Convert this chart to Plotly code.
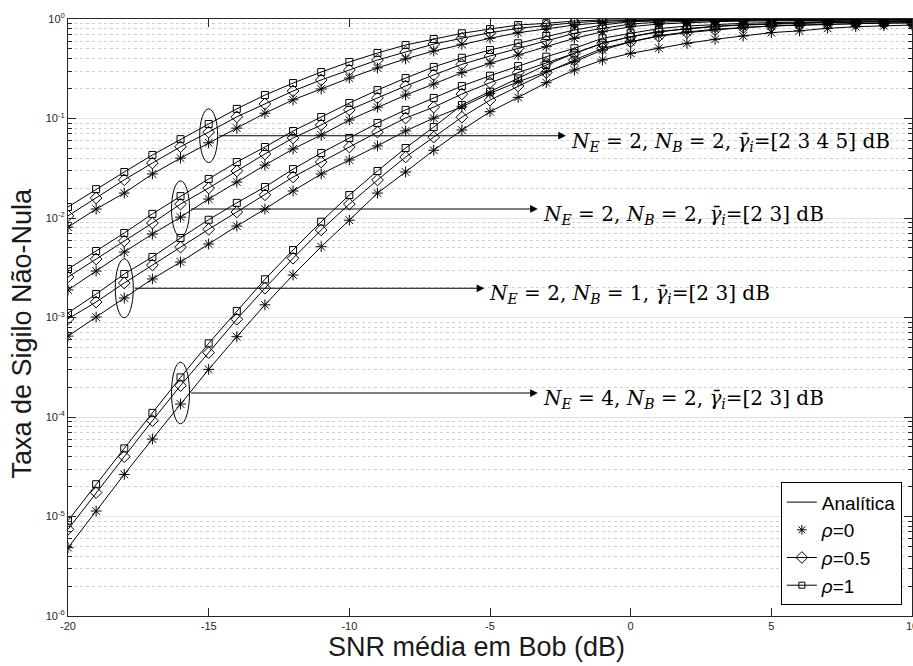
import numpy as np
import plotly.graph_objects as go

# SNR média em Bob (dB)
snr_db = list(range(-20, 11))

# N_E = 2, N_B = 2, gamma = [2 3 4 5] dB
taxa_a_rho0 = [0.0081, 0.0123, 0.0178, 0.0277, 0.040, 0.057, 0.080, 0.113, 0.154, 0.198,
               0.255, 0.322, 0.397, 0.477, 0.557, 0.640, 0.728, 0.793, 0.870, 0.918,
               0.950, 0.965, 0.973, 0.978, 0.982, 0.985, 0.987, 0.989, 0.990, 0.991, 0.992]
taxa_a_rho05 = [0.0105, 0.0159, 0.0242, 0.0357, 0.052, 0.073, 0.104, 0.140, 0.189, 0.244,
                0.307, 0.387, 0.466, 0.560, 0.640, 0.728, 0.806, 0.857, 0.918, 0.955,
                0.970, 0.980, 0.985, 0.988, 0.990, 0.992, 0.993, 0.994, 0.995, 0.996, 0.996]
taxa_a_rho1 = [0.0129, 0.0195, 0.029, 0.043, 0.062, 0.088, 0.125, 0.172, 0.227, 0.293,
               0.370, 0.455, 0.548, 0.630, 0.718, 0.793, 0.870, 0.905, 0.955, 0.977,
               0.985, 0.990, 0.993, 0.995, 0.996, 0.997, 0.998, 0.998, 0.999, 0.999, 0.999]

# N_E = 2, N_B = 2, gamma = [2 3] dB
taxa_b_rho0 = [0.00189, 0.00293, 0.00455, 0.0069, 0.0102, 0.0155, 0.023, 0.034, 0.0494, 0.0683,
               0.0966, 0.130, 0.172, 0.222, 0.289, 0.359, 0.435, 0.527, 0.640, 0.745,
               0.837, 0.890, 0.920, 0.940, 0.952, 0.960, 0.967, 0.972, 0.976, 0.979, 0.981]
taxa_b_rho05 = [0.00255, 0.00387, 0.00587, 0.0089, 0.0138, 0.020, 0.0297, 0.044, 0.0637, 0.086,
                0.122, 0.161, 0.212, 0.274, 0.350, 0.425, 0.508, 0.605, 0.718, 0.806,
                0.890, 0.930, 0.950, 0.962, 0.970, 0.975, 0.980, 0.983, 0.985, 0.987, 0.988]
taxa_b_rho1 = [0.00307, 0.00466, 0.00707, 0.011, 0.0166, 0.0247, 0.0365, 0.0517, 0.0749, 0.1035,
               0.143, 0.193, 0.255, 0.330, 0.408, 0.488, 0.570, 0.675, 0.775, 0.870,
               0.940, 0.960, 0.972, 0.980, 0.985, 0.988, 0.990, 0.992, 0.993, 0.994, 0.995]

# N_E = 2, N_B = 1, gamma = [2 3] dB
taxa_c_rho0 = [0.00065, 0.00101, 0.00157, 0.00244, 0.00361, 0.00548, 0.0083, 0.0123, 0.0187, 0.0277,
               0.0383, 0.053, 0.075, 0.101, 0.131, 0.179, 0.234, 0.295, 0.372, 0.488,
               0.590, 0.680, 0.740, 0.790, 0.825, 0.850, 0.870, 0.887, 0.900, 0.910, 0.918]
taxa_c_rho05 = [0.00097, 0.00143, 0.00222, 0.00337, 0.0051, 0.0077, 0.0115, 0.0171, 0.0258, 0.0365,
                0.0517, 0.073, 0.101, 0.130, 0.176, 0.229, 0.289, 0.359, 0.452, 0.570,
                0.664, 0.750, 0.800, 0.840, 0.870, 0.890, 0.905, 0.918, 0.928, 0.936, 0.943]
taxa_c_rho1 = [0.00111, 0.00172, 0.00274, 0.00406, 0.0063, 0.0096, 0.0142, 0.0205, 0.031, 0.045,
               0.0637, 0.090, 0.122, 0.161, 0.212, 0.269, 0.337, 0.418, 0.508, 0.640,
               0.718, 0.800, 0.850, 0.880, 0.905, 0.920, 0.935, 0.945, 0.952, 0.958, 0.963]

# N_E = 4, N_B = 2, gamma = [2 3] dB
taxa_d_rho0 = [4.86e-6, 1.135e-5, 2.65e-5, 6.0e-5, 1.35e-4, 3.01e-4, 6.41e-4, 1.34e-3, 2.67e-3, 5.15e-3,
               0.0095, 0.0178, 0.029, 0.048, 0.0766, 0.117, 0.163, 0.229, 0.307, 0.387,
               0.452, 0.510, 0.570, 0.625, 0.675, 0.730, 0.760, 0.806, 0.837, 0.857, 0.870]
taxa_d_rho05 = [7.43e-6, 1.74e-5, 3.99e-5, 9.18e-5, 2.07e-4, 4.43e-4, 9.6e-4, 1.97e-3, 3.94e-3, 7.57e-3,
                0.0138, 0.0241, 0.041, 0.065, 0.103, 0.153, 0.212, 0.289, 0.387, 0.508,
                0.590, 0.670, 0.730, 0.780, 0.820, 0.850, 0.870, 0.885, 0.898, 0.908, 0.915]
taxa_d_rho1 = [9.08e-6, 2.11e-5, 4.84e-5, 1.1e-4, 2.5e-4, 5.5e-4, 1.16e-3, 2.42e-3, 4.77e-3, 9.18e-3,
               0.017, 0.0297, 0.0505, 0.082, 0.137, 0.186, 0.253, 0.345, 0.452, 0.570,
               0.664, 0.740, 0.800, 0.845, 0.875, 0.900, 0.915, 0.928, 0.938, 0.945, 0.950]

legend_labels = ["Analítica", "<i>ρ</i>=0", "<i>ρ</i>=0.5", "<i>ρ</i>=1"]

group_labels = [
    "<i>N</i><sub><i>E</i></sub> = 2, <i>N</i><sub><i>B</i></sub> = 2, <i>γ̄</i><sub><i>i</i></sub>=[2 3 4 5] dB",
    "<i>N</i><sub><i>E</i></sub> = 2, <i>N</i><sub><i>B</i></sub> = 2, <i>γ̄</i><sub><i>i</i></sub>=[2 3] dB",
    "<i>N</i><sub><i>E</i></sub> = 2, <i>N</i><sub><i>B</i></sub> = 1, <i>γ̄</i><sub><i>i</i></sub>=[2 3] dB",
    "<i>N</i><sub><i>E</i></sub> = 4, <i>N</i><sub><i>B</i></sub> = 2, <i>γ̄</i><sub><i>i</i></sub>=[2 3] dB",
]
# SNR where each group is circled, and SNR where its label arrow ends
group_mark_snr = [-15, -16, -18, -16]
group_label_snr = [-2.3, -3.3, -5.2, -3.3]

groups = [
    (taxa_a_rho0, taxa_a_rho05, taxa_a_rho1),
    (taxa_b_rho0, taxa_b_rho05, taxa_b_rho1),
    (taxa_c_rho0, taxa_c_rho05, taxa_c_rho1),
    (taxa_d_rho0, taxa_d_rho05, taxa_d_rho1),
]

SANS = "Liberation Sans, Arial, sans-serif"
SERIF = "DejaVu Serif, serif"
INK = "black"
TICK_INK = "#262626"

marker_styles = [
    dict(symbol="asterisk-open", size=9, color=INK, line=dict(width=1, color=INK)),
    dict(symbol="diamond-open", size=9, color=INK, line=dict(width=1, color=INK)),
    dict(symbol="square-open", size=7, color=INK, line=dict(width=1, color=INK)),
]

fig = go.Figure()

for g in groups:
    for series, mk in zip(g, marker_styles):
        fig.add_trace(go.Scatter(
            x=snr_db, y=series, mode="lines+markers",
            line=dict(color=INK, width=1), marker=mk,
            showlegend=False, hoverinfo="skip",
        ))

# legend entries
fig.add_trace(go.Scatter(x=[None], y=[None], mode="lines", name=legend_labels[0],
                         line=dict(color=INK, width=1)))
fig.add_trace(go.Scatter(x=[None], y=[None], mode="markers", name=legend_labels[1],
                         marker=dict(symbol="asterisk-open", size=8, color=INK, line=dict(width=1, color=INK))))
fig.add_trace(go.Scatter(x=[None], y=[None], mode="lines+markers", name=legend_labels[2],
                         line=dict(color=INK, width=1), marker=marker_styles[1]))
fig.add_trace(go.Scatter(x=[None], y=[None], mode="lines+markers", name=legend_labels[3],
                         line=dict(color=INK, width=1),
                         marker=dict(symbol="square-open", size=6, color=INK, line=dict(width=1, color=INK))))

# circles around each group and arrows to its description
half_w = 0.32
for g, xs, xl, text in zip(groups, group_mark_snr, group_label_snr, group_labels):
    k = snr_db.index(xs)
    y_low = g[0][k] / 1.58
    y_high = g[2][k] * 1.42
    fig.add_shape(type="circle", xref="x", yref="y",
                  x0=xs - half_w, x1=xs + half_w, y0=y_low, y1=y_high,
                  line=dict(color=INK, width=1))
    y_mid = 0.5 * (np.log10(y_low) + np.log10(y_high))
    fig.add_annotation(x=xl, y=y_mid, ax=xs + half_w, ay=y_mid,
                       xref="x", yref="y", axref="x", ayref="y",
                       text="", showarrow=True, arrowhead=2, arrowsize=1.4,
                       arrowwidth=1.1, arrowcolor=INK, standoff=0, startstandoff=0)
    fig.add_annotation(x=xl, y=y_mid, xref="x", yref="y", text=text,
                       showarrow=False, xanchor="left", yanchor="middle",
                       xshift=3, yshift=-6,
                       font=dict(family=SERIF, size=20, color=INK))

# axis titles
fig.add_annotation(x=(476 - 68) / 844, y=-(647 - 616) / 597, xref="paper", yref="paper",
                   text="SNR média em Bob (dB)", showarrow=False,
                   xanchor="center", yanchor="middle",
                   font=dict(family=SANS, size=27, color="#1a1a1a"))
fig.add_annotation(x=-0.055, y=(616 - 333) / 597, xref="paper", yref="paper",
                   text="Taxa de Sigilo Não-Nula", showarrow=False, textangle=-90,
                   xanchor="center", yanchor="middle",
                   font=dict(family=SANS, size=27, color="#1a1a1a"))

y_major = [10.0 ** p for p in range(-6, 1)]
y_major_text = ["10<sup>%d</sup>" % p for p in range(-6, 1)]
y_minor = [m * 10.0 ** p for p in range(-6, 0) for m in range(2, 10)]

x_ticks = list(range(-20, 11, 5))
x_tick_text = [str(v) for v in x_ticks]

fig.update_layout(
    width=913, height=666,
    margin=dict(l=68, r=1, t=19, b=50, autoexpand=False),
    paper_bgcolor="white", plot_bgcolor="white",
    font=dict(family=SANS, color=TICK_INK),
    showlegend=True,
    legend=dict(x=0.988, y=0.018, xanchor="right", yanchor="bottom",
                bgcolor="white", bordercolor=INK, borderwidth=1,
                font=dict(family=SANS, size=19, color=INK),
                tracegroupgap=0, itemwidth=30),
    xaxis=dict(range=[-20, 10], tickvals=x_ticks, ticktext=x_tick_text,
               ticks="inside", ticklen=8, tickcolor=TICK_INK, tickwidth=1,
               showline=True, linecolor=TICK_INK, linewidth=1, mirror="ticks",
               showgrid=False, zeroline=False, ticklabeloverflow="allow",
               automargin=False,
               tickfont=dict(family=SANS, size=11, color=TICK_INK)),
    yaxis=dict(type="log", range=[-6, 0], tickvals=y_major, ticktext=y_major_text,
               ticks="inside", ticklen=8, tickcolor=TICK_INK, tickwidth=1,
               showline=True, linecolor=TICK_INK, linewidth=1, mirror="ticks",
               showgrid=True, gridcolor="#e3e3e3", gridwidth=1, zeroline=False,
               ticklabeloverflow="allow", automargin=False,
               tickfont=dict(family=SANS, size=11, color=TICK_INK),
               minor=dict(tickvals=y_minor, ticks="inside", ticklen=4,
                          tickcolor=TICK_INK, showgrid=True,
                          gridcolor="#cfcfcf", griddash="dot", gridwidth=1)),
)

fig.write_html("out.html")
